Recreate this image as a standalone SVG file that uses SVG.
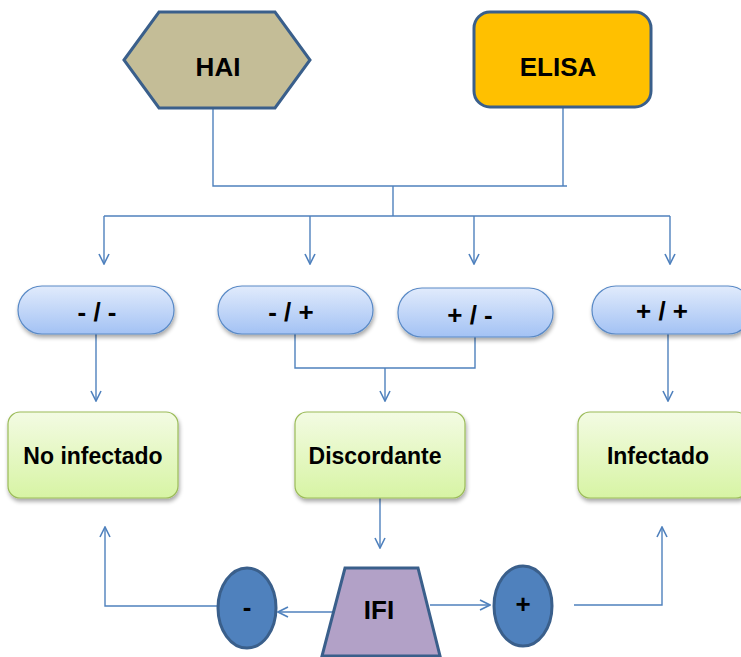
<svg xmlns="http://www.w3.org/2000/svg" width="741" height="657" viewBox="0 0 741 657">
<defs>
<linearGradient id="gBlue" x1="0" y1="0" x2="0" y2="1">
<stop offset="0" stop-color="#e1ebfc"/>
<stop offset="1" stop-color="#a3c2f4"/>
</linearGradient>
<linearGradient id="gGreen" x1="0" y1="0" x2="0" y2="1">
<stop offset="0" stop-color="#f3fbe3"/>
<stop offset="1" stop-color="#d7f4a4"/>
</linearGradient>
<filter id="sh" x="-10%" y="-10%" width="130%" height="140%">
<feGaussianBlur in="SourceAlpha" stdDeviation="2"/>
<feOffset dx="1" dy="3" result="o"/>
<feComponentTransfer><feFuncA type="linear" slope="0.35"/></feComponentTransfer>
<feMerge><feMergeNode/><feMergeNode in="SourceGraphic"/></feMerge>
</filter>
<marker id="arr" viewBox="0 0 12 12" refX="11" refY="6" markerWidth="12" markerHeight="12" markerUnits="userSpaceOnUse" orient="auto">
<path d="M1,1 L11,6 L1,11" fill="none" stroke="#4f81bd" stroke-width="1.6"/>
</marker>
</defs>
<style>
text{font-family:"Liberation Sans",Arial,sans-serif;font-weight:bold;font-size:23px;fill:#000;text-anchor:middle;dominant-baseline:central}
.big{font-size:26px}
.c{fill:none;stroke:#4f81bd;stroke-width:1.4}
.a{marker-end:url(#arr)}
.pill{fill:url(#gBlue);stroke:#5a8ac6;stroke-width:1.2;filter:url(#sh)}
.box{fill:url(#gGreen);stroke:#9bbb59;stroke-width:1.2;filter:url(#sh)}
.dk{stroke:#3a5f8b;stroke-width:3}
</style>
<g id="connectors">
<polyline class="c" points="213,108 213,186 567,186"/>
<line class="c" x1="563" y1="107" x2="563" y2="186"/>
<polyline class="c" points="393,186 393,216"/>
<line class="c" x1="104" y1="216" x2="670" y2="216"/>
<line class="c a" x1="104" y1="216" x2="104" y2="264"/>
<line class="c a" x1="310" y1="216" x2="310" y2="264"/>
<line class="c a" x1="474" y1="216" x2="474" y2="264"/>
<line class="c a" x1="670" y1="216" x2="670" y2="264"/>
<line class="c a" x1="96" y1="334" x2="96" y2="401"/>
<polyline class="c" points="295,334 295,368 475,368 475,322"/>
<line class="c a" x1="385" y1="368" x2="385" y2="401"/>
<line class="c a" x1="668" y1="334" x2="668" y2="401"/>
<line class="c a" x1="380" y1="498" x2="380" y2="548"/>
<line class="c a" x1="334" y1="612" x2="278" y2="612"/>
<line class="c a" x1="430" y1="605" x2="490" y2="605"/>
<polyline class="c a" points="217,606 105,606 105,527"/>
<polyline class="c a" points="574,605 662,605 662,527"/>
</g>
<g id="hai">
<polygon class="dk" points="124,60 159,12 275,12 310,60 275,108 159,108" fill="#c4bd97"/>
<text x="218" y="67" class="big">HAI</text>
</g>
<g id="elisa">
<rect class="dk" x="474" y="12" width="177" height="95" rx="16" fill="#ffc000"/>
<text x="558" y="67" class="big">ELISA</text>
</g>
<g id="p1">
<rect class="pill" x="18" y="286" width="156" height="48" rx="24"/>
<text x="97" y="312" class="big">- / -</text>
</g>
<g id="p2">
<rect class="pill" x="218" y="286" width="155" height="48" rx="24"/>
<text x="291" y="312" class="big">- / +</text>
</g>
<g id="p3">
<rect class="pill" x="398" y="288" width="155" height="49" rx="24"/>
<text x="470" y="315" class="big">+ / -</text>
</g>
<g id="p4">
<rect class="pill" x="592" y="286" width="160" height="48" rx="24"/>
<text x="662" y="311" class="big">+ / +</text>
</g>
<g id="noinf">
<rect class="box" x="8" y="412" width="170" height="86" rx="12"/>
<text x="93" y="456">No infectado</text>
</g>
<g id="disc">
<rect class="box" x="295" y="412" width="170" height="86" rx="12"/>
<text x="375" y="456">Discordante</text>
</g>
<g id="inf">
<rect class="box" x="578" y="412" width="170" height="86" rx="12"/>
<text x="658" y="456">Infectado</text>
</g>
<g id="ifi">
<polygon class="dk" points="345,568 418,568 440,656 322,656" fill="#b2a1c7"/>
<text x="379" y="610" class="big">IFI</text>
</g>
<g id="neg">
<ellipse class="dk" cx="247" cy="608" rx="29" ry="40" fill="#4f81bd"/>
<text x="247" y="607" class="big">-</text>
</g>
<g id="pos">
<ellipse class="dk" cx="523" cy="606" rx="29" ry="40" fill="#4f81bd"/>
<text x="523" y="604" class="big">+</text>
</g>
</svg>
